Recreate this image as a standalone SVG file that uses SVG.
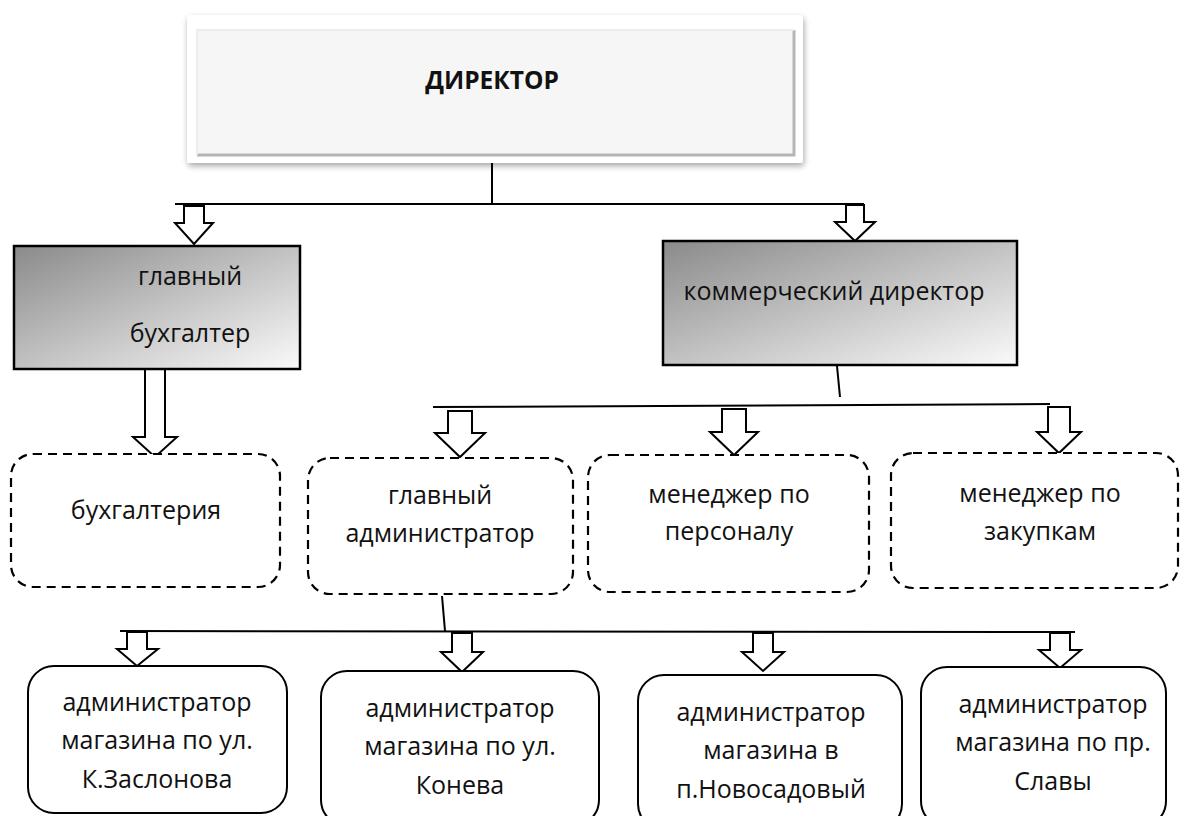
<svg xmlns="http://www.w3.org/2000/svg" width="1181" height="816" viewBox="0 0 1181 816">
<style>
text{font-family:"Open Sans","Noto Sans","Liberation Sans",sans-serif;font-size:25px;fill:#111;text-anchor:middle}
.b{font-weight:bold;font-size:24.5px}
.ln{stroke:#000;stroke-width:2;fill:none}
.ar{fill:#fff;stroke:#000;stroke-width:2;stroke-linejoin:miter}
.dash{fill:#fff;stroke:#000;stroke-width:2.2;stroke-dasharray:9 6}
.solid{fill:#fff;stroke:#000;stroke-width:2}
.grad{fill:url(#g);stroke:#000;stroke-width:2.5}
</style>
<defs>
<linearGradient id="g" x1="0" y1="0" x2="1" y2="1">
<stop offset="0" stop-color="#8a8a8a"/>
<stop offset="1" stop-color="#fafafa"/>
</linearGradient>
<filter id="sh" x="-5%" y="-10%" width="110%" height="125%">
<feGaussianBlur in="SourceAlpha" stdDeviation="3"/>
<feOffset dx="1" dy="3"/>
<feComponentTransfer><feFuncA type="linear" slope="0.35"/></feComponentTransfer>
<feMerge><feMergeNode/><feMergeNode in="SourceGraphic"/></feMerge>
</filter>
</defs>
<rect width="1181" height="816" fill="#fff"/>

<g id="connectors">
<line class="ln" x1="492" y1="158" x2="492" y2="204"/>
<line class="ln" x1="175" y1="204" x2="864" y2="204" stroke-width="2.5"/>
<polygon class="ar" points="184,206 204,206 204,223 213,223 194,244 175,223 184,223"/>
<polygon class="ar" points="846,205 864,205 864,222 875,222 855,241 835,222 846,222"/>
<polygon class="ar" points="145,369 165,369 165,437 177,437 155,457 133,437 145,437"/>
<line class="ln" x1="837" y1="366" x2="840" y2="397"/>
<line class="ln" x1="433" y1="407" x2="1050" y2="404" stroke-width="2.5"/>
<polygon class="ar" points="448,411 472,411 472,433 485,433 460,457 435,433 448,433"/>
<polygon class="ar" points="722,409 746,409 746,432 758,432 734,455 710,432 722,432"/>
<polygon class="ar" points="1048,407 1070,407 1070,432 1081,432 1059,453 1037,432 1048,432"/>
<line class="ln" x1="442" y1="596" x2="445" y2="631"/>
<line class="ln" x1="120" y1="631" x2="1075" y2="632" stroke-width="2.5"/>
<polygon class="ar" points="127,632 147,632 147,649 158,649 137,666 117,649 127,649"/>
<polygon class="ar" points="452,633 472,633 472,652 483,652 462,672 441,652 452,652"/>
<polygon class="ar" points="753,633 773,633 773,652 784,652 763,671 742,652 753,652"/>
<polygon class="ar" points="1050,633 1070,633 1070,650 1081,650 1060,668 1039,650 1050,650"/>
</g>

<g id="director">
<rect x="187" y="15" width="616" height="148" rx="3" fill="#fff" filter="url(#sh)"/>
<rect x="197" y="30" width="597" height="125" fill="#f6f6f6"/>
<path d="M197,155 L794,155 L794,30" fill="none" stroke="#b5b5b5" stroke-width="3"/>
<path d="M197,155 L197,30 L794,30" fill="none" stroke="#ededed" stroke-width="2"/>
<text class="b" x="492" y="89">ДИРЕКТОР</text>
</g>

<g id="chief-accountant">
<rect class="grad" x="14" y="246" width="286" height="123"/>
<text x="190" y="285">главный</text>
<text x="190" y="342">бухгалтер</text>
</g>

<g id="commercial-director">
<rect class="grad" x="663" y="241" width="354" height="124"/>
<text x="834" y="300">коммерческий директор</text>
</g>

<g id="accounting">
<rect class="dash" x="11" y="454" width="269" height="133" rx="22"/>
<text x="146" y="519">бухгалтерия</text>
</g>

<g id="chief-admin">
<rect class="dash" x="308" y="458" width="265" height="136" rx="22"/>
<text x="440" y="504">главный</text>
<text x="440" y="542">администратор</text>
</g>

<g id="hr-manager">
<rect class="dash" x="588" y="455" width="281" height="137" rx="22"/>
<text x="729" y="503">менеджер по</text>
<text x="729" y="540">персоналу</text>
</g>

<g id="purchase-manager">
<rect class="dash" x="891" y="453" width="287" height="135" rx="22"/>
<text x="1040" y="502">менеджер по</text>
<text x="1040" y="540">закупкам</text>
</g>

<g id="admin-zaslonova">
<rect class="solid" x="28" y="666" width="259" height="147" rx="26"/>
<text x="157" y="711">администратор</text>
<text x="157" y="749">магазина по ул.</text>
<text x="157" y="788">К.Заслонова</text>
</g>

<g id="admin-koneva">
<rect class="solid" x="321" y="671" width="278" height="155" rx="26"/>
<text x="460" y="717">администратор</text>
<text x="460" y="755">магазина по ул.</text>
<text x="460" y="794">Конева</text>
</g>

<g id="admin-novosadovy">
<rect class="solid" x="638" y="675" width="264" height="155" rx="26"/>
<text x="771" y="721">администратор</text>
<text x="771" y="759">магазина в</text>
<text x="771" y="798">п.Новосадовый</text>
</g>

<g id="admin-slavy">
<rect class="solid" x="921" y="667" width="245" height="160" rx="26"/>
<text x="1053" y="713">администратор</text>
<text x="1053" y="751">магазина по пр.</text>
<text x="1053" y="790">Славы</text>
</g>
</svg>
